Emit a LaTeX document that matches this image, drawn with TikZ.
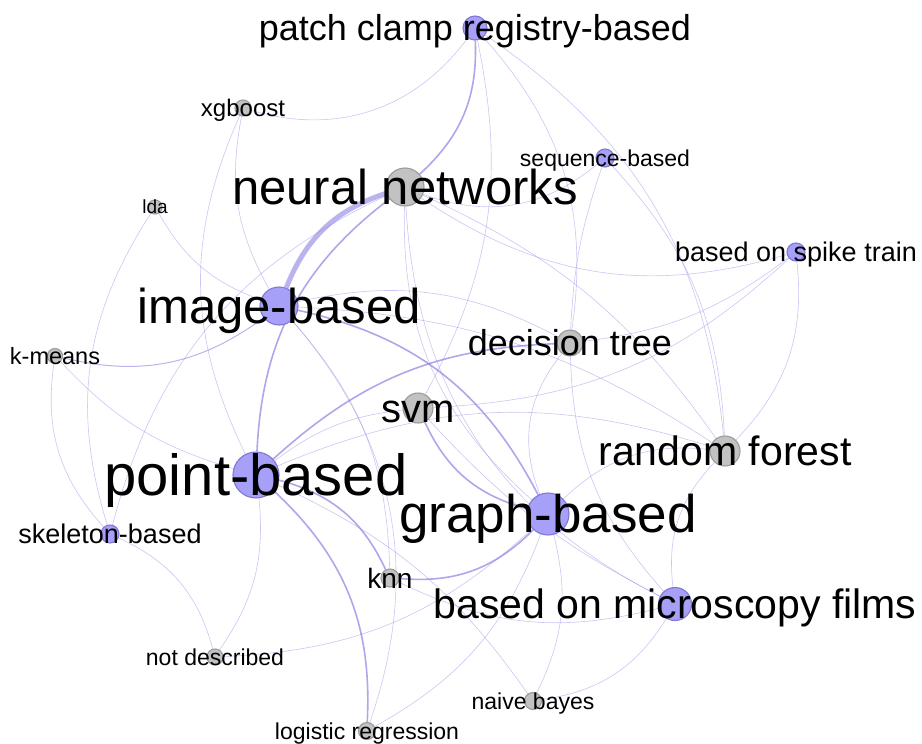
\documentclass[tikz,border=0pt]{standalone}
\usepackage{fontspec}
\setmainfont{Liberation Sans}
\pgfdeclarelayer{bg}
\pgfdeclarelayer{edges}
\pgfsetlayers{bg,edges,main}
\definecolor{pfill}{RGB}{166,160,248}
\definecolor{pdraw}{RGB}{128,120,212}
\definecolor{gfill}{RGB}{194,194,194}
\definecolor{gdraw}{RGB}{155,155,155}
\definecolor{ecol}{RGB}{140,130,228}
\tikzset{
  pnode/.style={circle, fill=pfill, draw=pdraw, line width=1.1pt, inner sep=0pt, minimum size=#1},
  gnode/.style={circle, fill=gfill, draw=gdraw, line width=1.1pt, inner sep=0pt, minimum size=#1},
  e/.style={draw=ecol, draw opacity=0.45, line width=0.6pt},
  ef/.style={draw=ecol, draw opacity=0.6, line width=1.0pt},
  em/.style={draw=ecol, draw opacity=0.7, line width=1.6pt},
  eth/.style={draw=ecol, draw opacity=0.6, line width=5pt},
  lab/.style={anchor=base, inner sep=0pt, text=black, font=\fontsize{#1pt}{#1pt}\selectfont, yshift={-0.358*#1pt}}
}
\begin{document}
\begin{tikzpicture}[x=1pt,y=-1pt]
\begin{pgfonlayer}{bg}
\fill[white] (0,0) rectangle (922,744);
\end{pgfonlayer}
\useasboundingbox (0,0) rectangle (922,744);
% nodes
\node[pnode=24pt] (PC) at (475,28) {};
\node[gnode=16pt] (xgb) at (243,108) {};
\node[pnode=18pt] (SEQ) at (605,158) {};
\node[gnode=38pt] (NN) at (405,187) {};
\node[gnode=14pt] (lda) at (155,207) {};
\node[pnode=18pt] (SPK) at (796,252) {};
\node[pnode=38pt] (IMG) at (279,306) {};
\node[gnode=15pt] (km) at (55,356) {};
\node[gnode=26pt] (DT) at (570,343) {};
\node[gnode=30pt] (svm) at (418,408) {};
\node[gnode=30pt] (RF) at (725,451) {};
\node[pnode=46pt] (PT) at (256,475) {};
\node[pnode=42pt] (GR) at (548,514) {};
\node[pnode=18pt] (SK) at (110,534) {};
\node[gnode=18pt] (knn) at (390,578) {};
\node[pnode=33pt] (MF) at (675,604) {};
\node[gnode=16pt] (ND) at (215,657) {};
\node[gnode=17pt] (NB) at (533,701) {};
\node[gnode=17pt] (LR) at (367,731) {};
% edges
\begin{pgfonlayer}{edges}
\draw[eth] (NN) to[bend right=25] (IMG);
\draw[em] (NN) to[bend right=25] (PT);
\draw[em] (PC) to[bend left=25] (NN);
\draw[e] (xgb) to[bend right=35] (PC);
\draw[e] (xgb) to[bend right=20] (IMG);
\draw[e] (xgb) to[bend right=25] (PT);
\draw[e] (lda) to[bend right=20] (IMG);
\draw[e] (lda) to[bend right=25] (SK);
\draw[ef] (km) to[bend right=25] (IMG);
\draw[e] (km) to[bend right=15] (PT);
\draw[e] (km) to[bend right=25] (SK);
\draw[e] (NN) to[bend right=25] (SK);
\draw[e] (NN) to[bend right=30] (SEQ);
\draw[e] (NN) to[bend right=25] (SPK);
\draw[e] (NN) to[bend right=25] (GR);
\draw[e] (NN) to[bend right=30] (MF);
\draw[e] (NN) to[bend left=15] (RF);
\draw[e] (PC) to[bend left=20] (svm);
\draw[e] (PC) to[bend left=25] (DT);
\draw[e] (PC) to[bend left=25] (RF);
\draw[e] (SEQ) to[bend right=8] (DT);
\draw[e] (SEQ) to[bend left=20] (RF);
\draw[e] (DT) to[bend right=15] (SPK);
\draw[e] (svm) to[bend right=20] (SPK);
\draw[e] (SPK) to[bend left=25] (RF);
\draw[e] (IMG) to[bend left=20] (DT);
\draw[em] (PT) to[bend left=20] (DT);
\draw[e] (DT) to[bend right=30] (GR);
\draw[e] (DT) to[bend right=20] (MF);
\draw[e] (PT) to[bend left=15] (svm);
\draw[em] (svm) to[bend right=25] (GR);
\draw[e] (svm) to[bend right=10] (MF);
\draw[e] (RF) to[bend right=25] (GR);
\draw[e] (RF) to[bend right=25] (MF);
\draw[e] (PT) to[bend left=20] (RF);
\draw[e] (IMG) to[bend left=15] (RF);
\draw[em] (IMG) to[bend left=25] (GR);
\draw[em] (knn) to[bend right=25] (GR);
\draw[e] (GR) to[bend left=20] (LR);
\draw[e] (GR) to[bend left=20] (NB);
\draw[e] (PT) to[bend left=15] (NB);
\draw[e] (ND) to[bend right=20] (GR);
\draw[e] (knn) to[bend right=20] (MF);
\draw[e] (NB) to[bend right=25] (MF);
\draw[em] (PT) to[bend left=25] (knn);
\draw[em] (LR) to[bend right=25] (PT);
\draw[e] (LR) to[bend right=30] (IMG);
\draw[e] (SK) to[bend left=25] (ND);
\draw[e] (PT) to[bend left=20] (ND);
\draw[e] (knn) to[bend right=20] (IMG);
\end{pgfonlayer}
% labels
\node[lab=36] (PCl) at (PC) {patch clamp registry-based};
\node[lab=24] (xgbl) at (xgb) {xgboost};
\node[lab=23] (SEQl) at (SEQ) {sequence-based};
\node[lab=49] (NNl) at (NN) {neural networks};
\node[lab=19] (ldal) at (lda) {lda};
\node[lab=27] (SPKl) at (SPK) {based on spike train};
\node[lab=49] (IMGl) at (IMG) {image-based};
\node[lab=23.5] (kml) at (km) {k-means};
\node[lab=36] (DTl) at (DT) {decision tree};
\node[lab=40] (svml) at (svm) {svm};
\node[lab=41] (RFl) at (RF) {random forest};
\node[lab=58] (PTl) at (PT) {point-based};
\node[lab=53] (GRl) at (GR) {graph-based};
\node[lab=27] (SKl) at (SK) {skeleton-based};
\node[lab=28] (knnl) at (knn) {knn};
\node[lab=41] (MFl) at (MF) {based on microscopy films};
\node[lab=23] (NDl) at (ND) {not described};
\node[lab=23] (NBl) at (NB) {naive bayes};
\node[lab=23] (LRl) at (LR) {logistic regression};
\end{tikzpicture}
\end{document}
